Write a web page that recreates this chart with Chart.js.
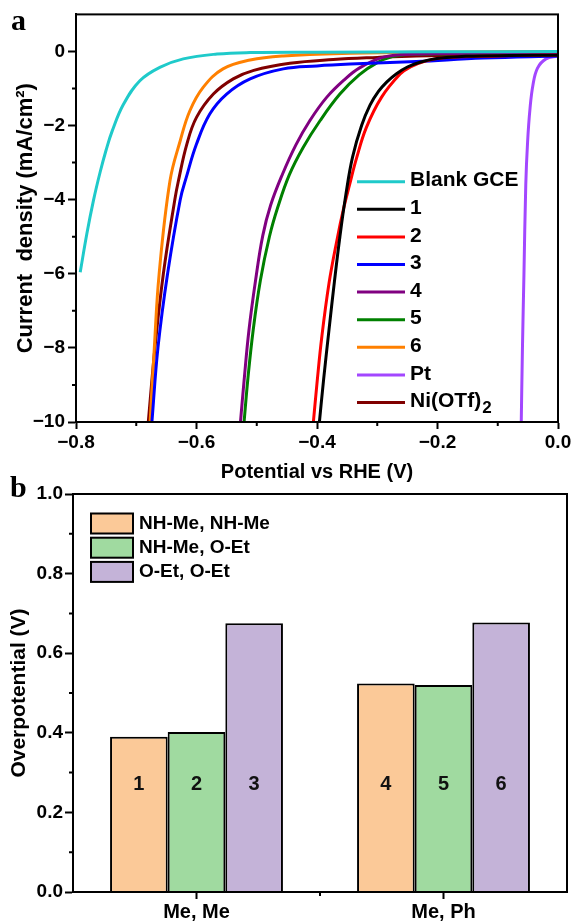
<!DOCTYPE html>
<html>
<head>
<meta charset="utf-8">
<script src="https://cdn.jsdelivr.net/npm/chart.js@4.4.1/dist/chart.umd.min.js"></script>
<style>
html,body{margin:0;padding:0;background:#ffffff;}
#wrap{position:relative;width:575px;height:922px;overflow:hidden;}
#wrap canvas{position:absolute;left:0;top:0;}
</style>
</head>
<body>
<div id="wrap">
<canvas id="chartA" width="575" height="922"></canvas>
<canvas id="chartB" width="575" height="922"></canvas>
</div>
<script>
// ---------------- Panel a : LSV curves (potential V vs RHE, current density mA/cm2) ----------------
const seriesNames = ['Blank GCE', '1', '2', '3', '4', '5', '6', 'Pt', 'Ni(OTf)₂'];
const seriesColors = ['#1FCACA', '#000000', '#FF0000', '#0000FF', '#800080', '#008000', '#FF8000', '#A347FF', '#800000'];

const blankV = [-0.793, -0.782, -0.771, -0.760, -0.750, -0.740, -0.721, -0.694, -0.661, -0.622, -0.566, -0.511, -0.400, -0.200, 0.000];
const blankJ = [-5.96, -4.92, -4.02, -3.26, -2.66, -2.15, -1.42, -0.79, -0.43, -0.20, -0.07, -0.03, -0.02, -0.01, 0.00];

const s1V = [-0.396, -0.389, -0.380, -0.371, -0.362, -0.352, -0.341, -0.326, -0.312, -0.298, -0.284, -0.268, -0.250, -0.229, -0.201, -0.150, -0.080, 0.000];
const s1J = [-10.0, -8.85, -7.50, -6.20, -5.00, -3.85, -2.85, -2.00, -1.45, -1.08, -0.82, -0.60, -0.42, -0.29, -0.19, -0.13, -0.11, -0.10];

const s2V = [-0.406, -0.400, -0.392, -0.380, -0.367, -0.356, -0.346, -0.334, -0.318, -0.293, -0.262, -0.245, -0.220, -0.190, -0.100, 0.000];
const s2J = [-10.0, -8.95, -7.70, -6.25, -5.10, -4.25, -3.60, -2.86, -2.05, -1.24, -0.61, -0.42, -0.26, -0.17, -0.12, -0.10];

const s3V = [-0.674, -0.664, -0.648, -0.627, -0.617, -0.600, -0.578, -0.550, -0.511, -0.456, -0.400, -0.345, -0.235, -0.124, 0.000];
const s3J = [-10.0, -8.0, -6.0, -4.0, -3.40, -2.50, -1.69, -1.15, -0.74, -0.47, -0.39, -0.34, -0.27, -0.18, -0.12];

const s4V = [-0.527, -0.521, -0.513, -0.502, -0.490, -0.477, -0.457, -0.435, -0.412, -0.384, -0.353, -0.330, -0.295, -0.262, -0.150, 0.000];
const s4J = [-10.0, -8.88, -7.53, -6.18, -4.97, -4.15, -3.30, -2.52, -1.87, -1.24, -0.74, -0.45, -0.18, -0.09, -0.05, -0.05];

const s5V = [-0.521, -0.515, -0.506, -0.494, -0.479, -0.465, -0.446, -0.423, -0.395, -0.362, -0.330, -0.300, -0.275, -0.250, -0.100, 0.000];
const s5J = [-10.0, -8.88, -7.53, -6.18, -5.00, -4.20, -3.33, -2.59, -1.87, -1.15, -0.63, -0.30, -0.14, -0.08, -0.06, -0.06];

const s6V = [-0.677, -0.670, -0.662, -0.644, -0.627, -0.611, -0.589, -0.556, -0.511, -0.456, -0.345, -0.200, 0.000];
const s6J = [-10.0, -8.0, -6.0, -3.49, -2.41, -1.60, -0.97, -0.47, -0.23, -0.12, -0.05, -0.02, 0.00];

const ptV = [-0.0610, -0.0590, -0.0565, -0.0535, -0.0505, -0.0465, -0.0415, -0.0340, -0.0200, 0.0000];
const ptJ = [-10.0, -8.0, -6.0, -3.60, -2.45, -1.55, -0.90, -0.45, -0.20, -0.12];

const niV = [-0.680, -0.669, -0.655, -0.636, -0.630, -0.616, -0.600, -0.572, -0.539, -0.505, -0.445, -0.373, -0.300, -0.235, -0.120, 0.000];
const niJ = [-10.0, -8.0, -6.0, -4.0, -3.49, -2.50, -1.78, -1.15, -0.74, -0.51, -0.32, -0.22, -0.16, -0.12, -0.09, -0.08];

const potentials = [blankV, s1V, s2V, s3V, s4V, s5V, s6V, ptV, niV];
const currents   = [blankJ, s1J, s2J, s3J, s4J, s5J, s6J, ptJ, niJ];

const xTicksA = [-0.8, -0.6, -0.4, -0.2, 0.0];
const xMinorA = [-0.7, -0.5, -0.3, -0.1];
const yTicksA = [-10, -8, -6, -4, -2, 0];
const yMinorA = [-9, -7, -5, -3, -1];

// ---------------- Panel b : overpotential bars ----------------
const categoriesB = ['Me, Me', 'Me, Ph'];
const barSeriesNames = ['NH-Me, NH-Me', 'NH-Me, O-Et', 'O-Et, O-Et'];
const barColors = ['#FBC998', '#A0DAA0', '#C4B3D8'];
const overNHNH = [0.390, 0.524];
const overNHOEt = [0.402, 0.520];
const overOEtOEt = [0.675, 0.677];
const barNumbers = [['1', '4'], ['2', '5'], ['3', '6']];
const yTicksB = [0.0, 0.2, 0.4, 0.6, 0.8, 1.0];
const yMinorB = [0.1, 0.3, 0.5, 0.7, 0.9];

const FONT = '"Liberation Sans", Arial, Helvetica, sans-serif';
const SERIF = '"Liberation Serif", "Times New Roman", serif';
const minus = s => s.replace('-', '\u2212');

// ---------- shared plugins ----------
const framePlugin = {
  id: 'frame',
  afterDraw(chart) {
    const {ctx, chartArea: a} = chart;
    ctx.save();
    ctx.strokeStyle = '#000';
    ctx.lineWidth = 2;
    ctx.strokeRect(a.left, a.top, a.right - a.left, a.bottom - a.top);
    ctx.restore();
  }
};

const minorTickPlugin = {
  id: 'minorTicks',
  afterDraw(chart, args, opts) {
    const {ctx, chartArea: a} = chart;
    ctx.save();
    ctx.strokeStyle = '#000';
    ctx.lineWidth = 2;
    ctx.beginPath();
    (opts.x || []).forEach(v => {
      const px = chart.scales.x.getPixelForValue(v);
      ctx.moveTo(px, a.bottom); ctx.lineTo(px, a.bottom + 4);
    });
    (opts.y || []).forEach(v => {
      const py = chart.scales.y.getPixelForValue(v);
      ctx.moveTo(a.left, py); ctx.lineTo(a.left - 4, py);
    });
    ctx.stroke();
    ctx.restore();
  }
};

const panelLabelPlugin = {
  id: 'panelLabel',
  afterDraw(chart, args, opts) {
    const ctx = chart.ctx;
    ctx.save();
    ctx.font = 'bold 30px ' + SERIF;
    ctx.fillStyle = '#000';
    ctx.textBaseline = 'alphabetic';
    ctx.textAlign = 'left';
    ctx.fillText(opts.text, opts.x, opts.y);
    ctx.restore();
  }
};

// ---------- legend for panel a ----------
const legendAPlugin = {
  id: 'legendA',
  afterDraw(chart) {
    const ctx = chart.ctx;
    ctx.save();
    chart.data.datasets.forEach((ds, i) => {
      const y = 181.7 + i * 27.6;
      ctx.strokeStyle = ds.borderColor;
      ctx.lineWidth = 3;
      ctx.beginPath(); ctx.moveTo(357, y); ctx.lineTo(405, y); ctx.stroke();
      ctx.fillStyle = '#000';
      ctx.textAlign = 'left';
      ctx.textBaseline = 'middle';
      ctx.font = 'bold 21px ' + FONT;
      const parts = ds.label.split('₂');
      ctx.fillText(parts[0], 410, y - 1);
      if (parts.length > 1) {
        const w = ctx.measureText(parts[0]).width;
        ctx.font = 'bold 17px ' + FONT;
        ctx.fillText('2', 410 + w + 1, y + 6);
      }
    });
    ctx.restore();
  }
};

// ---------- chart a ----------
const datasetsA = seriesNames.map((name, i) => ({
  label: name,
  data: potentials[i].map((v, k) => ({x: v, y: currents[i][k]})),
  borderColor: seriesColors[i],
  backgroundColor: seriesColors[i],
  borderWidth: 3,
  pointRadius: 0,
  fill: false,
  tension: 0.4
}));

new Chart(document.getElementById('chartA'), {
  type: 'line',
  data: {datasets: datasetsA},
  options: {
    responsive: false,
    animation: false,
    devicePixelRatio: 1,
    layout: {padding: {top: 14, right: 17, bottom: 438, left: 0}},
    plugins: {
      legend: {display: false},
      tooltip: {enabled: false},
      minorTicks: {x: xMinorA, y: yMinorA},
      panelLabel: {text: 'a', x: 11, y: 30}
    },
    scales: {
      x: {
        type: 'linear',
        min: -0.8, max: 0,
        afterBuildTicks: s => { s.ticks = xTicksA.map(v => ({value: v})); },
        afterFit: s => { s.height = 62; },
        grid: {drawOnChartArea: false, drawTicks: true, tickLength: 7, tickWidth: 2, tickColor: '#000'},
        border: {display: true, color: '#000', width: 2},
        ticks: {
          autoSkip: false, maxRotation: 0, padding: 2, color: '#000',
          font: {family: FONT, size: 19, weight: 'bold'},
          callback: v => minus(Number(v).toFixed(1))
        },
        title: {display: true, text: 'Potential vs RHE (V)', color: '#000',
          font: {family: FONT, size: 20, weight: 'bold'}, padding: {top: 0, bottom: 0}}
      },
      y: {
        type: 'linear',
        min: -10, max: 1,
        afterBuildTicks: s => { s.ticks = yTicksA.map(v => ({value: v})); },
        afterFit: s => { s.width = 76; },
        grid: {drawOnChartArea: false, drawTicks: true, tickLength: 8, tickWidth: 2, tickColor: '#000'},
        border: {display: true, color: '#000', width: 2},
        ticks: {
          autoSkip: false, padding: 3, color: '#000',
          font: {family: FONT, size: 19, weight: 'bold'},
          callback: v => minus(String(v))
        },
        title: {display: true, text: 'Current  density (mA/cm²)', color: '#000',
          font: {family: FONT, size: 22, weight: 'bold'}, padding: {top: 13, bottom: 0}}
      }
    }
  },
  plugins: [framePlugin, minorTickPlugin, panelLabelPlugin, legendAPlugin]
});

// ---------- chart b ----------
const legendBPlugin = {
  id: 'legendB',
  afterDraw(chart) {
    const ctx = chart.ctx;
    ctx.save();
    chart.data.datasets.forEach((ds, i) => {
      const top = 513.5 + i * 24.2;
      ctx.fillStyle = ds.backgroundColor;
      ctx.fillRect(91, top, 42, 20);
      ctx.strokeStyle = '#000';
      ctx.lineWidth = 2;
      ctx.strokeRect(91, top, 42, 20);
      ctx.fillStyle = '#000';
      ctx.font = 'bold 19px ' + FONT;
      ctx.textAlign = 'left';
      ctx.textBaseline = 'middle';
      ctx.fillText(ds.label, 139, top + 10);
    });
    ctx.restore();
  }
};

const barNumberPlugin = {
  id: 'barNumbers',
  afterDatasetsDraw(chart) {
    const ctx = chart.ctx;
    const y = chart.scales.y.getPixelForValue(0.27);
    ctx.save();
    ctx.font = 'bold 20px ' + FONT;
    ctx.fillStyle = '#111';
    ctx.textAlign = 'center';
    ctx.textBaseline = 'middle';
    chart.data.datasets.forEach((ds, i) => {
      chart.getDatasetMeta(i).data.forEach((bar, j) => {
        ctx.fillText(barNumbers[i][j], bar.x, y);
      });
    });
    ctx.restore();
  }
};

const barValues = [overNHNH, overNHOEt, overOEtOEt];
new Chart(document.getElementById('chartB'), {
  type: 'bar',
  data: {
    labels: categoriesB,
    datasets: barSeriesNames.map((name, i) => ({
      label: name,
      data: barValues[i],
      backgroundColor: barColors[i],
      borderColor: '#000',
      borderWidth: 2,
      borderSkipped: 'bottom',
      categoryPercentage: 0.7,
      barPercentage: 1.0
    }))
  },
  options: {
    responsive: false,
    animation: false,
    devicePixelRatio: 1,
    layout: {padding: {top: 494, right: 8, bottom: 0, left: 0}},
    plugins: {
      legend: {display: false},
      tooltip: {enabled: false},
      minorTicks: {x: [0.5], y: yMinorB},
      panelLabel: {text: 'b', x: 10, y: 497}
    },
    scales: {
      x: {
        type: 'category',
        offset: true,
        afterFit: s => { s.height = 30; },
        grid: {offset: false, drawOnChartArea: false, drawTicks: true, tickLength: 7, tickWidth: 2, tickColor: '#000'},
        border: {display: true, color: '#000', width: 2},
        ticks: {autoSkip: false, maxRotation: 0, padding: 1, color: '#000',
          font: {family: FONT, size: 20, weight: 'bold'}}
      },
      y: {
        type: 'linear',
        min: 0, max: 1,
        afterBuildTicks: s => { s.ticks = yTicksB.map(v => ({value: v})); },
        afterFit: s => { s.width = 73; },
        grid: {drawOnChartArea: false, drawTicks: true, tickLength: 8, tickWidth: 2, tickColor: '#000'},
        border: {display: true, color: '#000', width: 2},
        ticks: {autoSkip: false, padding: 2, color: '#000',
          font: {family: FONT, size: 19, weight: 'bold'},
          callback: v => Number(v).toFixed(1)},
        title: {display: true, text: 'Overpotential (V)', color: '#000',
          font: {family: FONT, size: 21, weight: 'bold'}, padding: {top: 7, bottom: 0}}
      }
    }
  },
  plugins: [framePlugin, minorTickPlugin, panelLabelPlugin, legendBPlugin, barNumberPlugin]
});
</script>
</body>
</html>
